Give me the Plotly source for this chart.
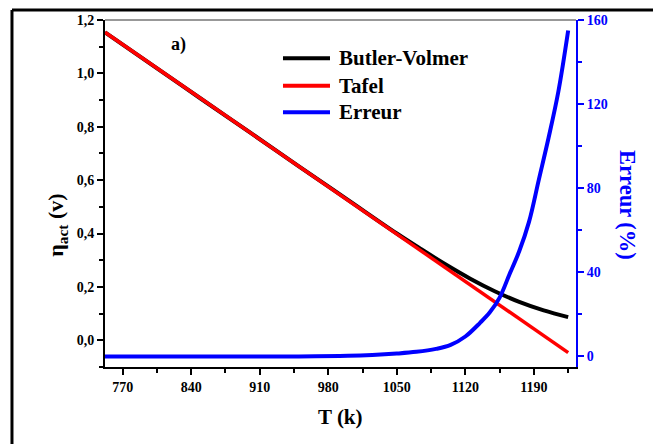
import plotly.graph_objects as go

# Temperatures (K) for the overpotential curves
T_eta = [752, 800, 850, 900, 950, 1000, 1050, 1075, 1100, 1125, 1150, 1175, 1200, 1225]
butler_volmer = [1.154, 1.032, 0.905, 0.779, 0.652, 0.526, 0.400, 0.341, 0.284, 0.231, 0.184, 0.144, 0.112, 0.087]
tafel = [1.154, 1.032, 0.905, 0.779, 0.652, 0.525, 0.398, 0.335, 0.271, 0.208, 0.144, 0.081, 0.017, -0.046]

# Error curve (%)
T_err = [752, 800, 850, 900, 950, 1000, 1025, 1050, 1070, 1090, 1105, 1120, 1135, 1145, 1155,
         1165, 1175, 1185, 1195, 1205, 1215, 1225]
erreur = [0, 0, 0, 0, 0.05, 0.3, 0.7, 1.4, 2.2, 3.6, 5.5, 9.5, 16, 21, 28,
          39, 50, 64, 84, 104, 126, 155]

x_ticks = [770, 840, 910, 980, 1050, 1120, 1190]
y_ticks = [0.0, 0.2, 0.4, 0.6, 0.8, 1.0, 1.2]
y2_ticks = [0, 40, 80, 120, 160]

series_names = ["Butler-Volmer", "Tafel", "Erreur"]
series_colors = ["black", "#ff0000", "#0000ff"]

FONT = "Liberation Serif"
BLUE = "#0000ff"

fig = go.Figure()
fig.add_trace(go.Scatter(x=T_eta, y=butler_volmer, mode="lines", name=series_names[0],
                         line=dict(color=series_colors[0], width=4), line_shape="spline"))
fig.add_trace(go.Scatter(x=T_eta, y=tafel, mode="lines", name=series_names[1],
                         line=dict(color=series_colors[1], width=3.5)))
fig.add_trace(go.Scatter(x=T_err, y=erreur, mode="lines", name=series_names[2], yaxis="y2",
                         line=dict(color=series_colors[2], width=4), line_shape="spline"))

# manual legend (line sample + text), placed in paper coordinates
legend_rows_y = [0.8896, 0.8107, 0.7340]
annotations = [
    dict(text="T (k)", xref="paper", yref="paper", x=0.5, y=-0.145, xanchor="center",
         yanchor="middle", showarrow=False,
         font=dict(family=FONT, size=21, color="black", weight="bold")),
    dict(text="η<sub>act</sub> (v)", xref="paper", yref="paper", x=-0.102, y=0.41,
         xanchor="center", yanchor="middle", textangle=-90, showarrow=False,
         font=dict(family=FONT, size=22, color="black", weight="bold")),
    dict(text="Erreur (%)", xref="paper", yref="paper", x=1.108, y=0.467,
         xanchor="center", yanchor="middle", textangle=90, showarrow=False,
         font=dict(family=FONT, size=22.5, color=BLUE, weight="bold")),
    dict(text="a)", xref="paper", yref="paper", x=0.155, y=0.93,
         xanchor="center", yanchor="middle", showarrow=False,
         font=dict(family=FONT, size=18, color="black", weight="bold")),
]
shapes = [
    dict(type="line", xref="paper", yref="paper", x0=-0.1975, x1=-0.1975, y0=1.0288, y1=-0.25,
         line=dict(color="black", width=3)),
    dict(type="line", xref="paper", yref="paper", x0=-0.1975, x1=1.2, y0=1.0288, y1=1.0288,
         line=dict(color="black", width=3)),
    dict(type="line", xref="paper", yref="paper", x0=0, x1=1, y0=1, y1=1,
         line=dict(color="#333333", width=1)),
]
for name, color, ly in zip(series_names, series_colors, legend_rows_y):
    shapes.append(dict(type="line", xref="paper", yref="paper", x0=0.3779, x1=0.4777,
                       y0=ly, y1=ly, line=dict(color=color, width=4)))
    annotations.append(dict(text=name, xref="paper", yref="paper", x=0.4926, y=ly,
                            xanchor="left", yanchor="middle", showarrow=False,
                            font=dict(family=FONT, size=21, color="black", weight="bold")))

fig.update_layout(
    width=661, height=444,
    margin=dict(l=97, r=93, t=12, b=85, autoexpand=False),
    paper_bgcolor="white", plot_bgcolor="white",
    separators=",.",
    font=dict(family=FONT, color="black"),
    showlegend=False,
    xaxis=dict(range=[752, 1233], tickvals=x_ticks, ticks="outside", ticklen=6, tickwidth=1.5,
               tickcolor="black", showline=True, linecolor="black", linewidth=2,
               showgrid=False, zeroline=False, automargin=False,
               tickfont=dict(family=FONT, size=14, color="black", weight="bold"),
               minor=dict(dtick=35, tick0=735, ticks="outside", ticklen=4, tickcolor="black")),
    yaxis=dict(range=[-0.1, 1.2], tickvals=y_ticks, tickformat=".1f", ticks="outside", ticklen=6,
               tickwidth=1.5, tickcolor="black", showline=True, linecolor="black", linewidth=2,
               showgrid=False, zeroline=False, automargin=False,
               tickfont=dict(family=FONT, size=14, color="black", weight="bold"),
               minor=dict(dtick=0.1, tick0=0.1, ticks="outside", ticklen=4, tickcolor="black")),
    yaxis2=dict(range=[-5, 160], tickvals=y2_ticks, overlaying="y", side="right", anchor="x",
                ticks="outside", ticklen=6, tickwidth=1.5, tickcolor=BLUE, showline=True,
                linecolor=BLUE, linewidth=2, showgrid=False, zeroline=False, automargin=False,
                tickfont=dict(family=FONT, size=14, color=BLUE, weight="bold"),
                minor=dict(dtick=20, tick0=20, ticks="outside", ticklen=4, tickcolor=BLUE)),
    annotations=annotations,
    shapes=shapes,
)

fig.write_html("out.html")
